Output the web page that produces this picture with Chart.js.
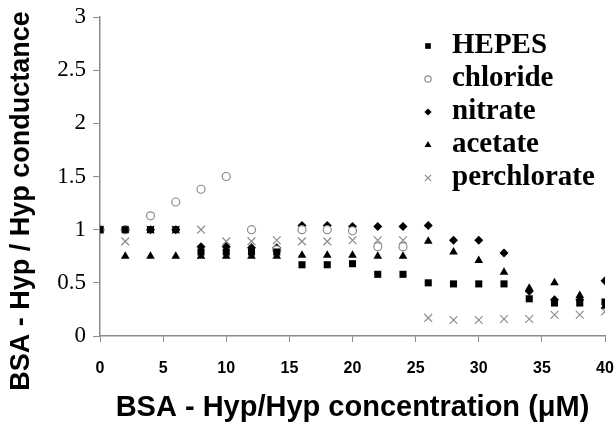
<!DOCTYPE html>
<html>
<head>
<meta charset="utf-8">
<script src="https://cdn.jsdelivr.net/npm/chart.js@4.4.0/dist/chart.umd.min.js"></script>
<style>
  html, body { margin: 0; padding: 0; background: #fff; }
  #wrap { width: 616px; height: 425px; }
</style>
</head>
<body>
<div id="wrap"><canvas id="chart" width="616" height="425"></canvas></div>
<script>
// concentration (uM)
const conc = [0, 2, 4, 6, 8, 10, 12, 14, 16, 18, 20, 22, 24, 26, 28, 30, 32, 34, 36, 38, 40];

// relative conductance per anion
const hepes       = [1.0, 1.0, 1.0, 1.0, 0.79, 0.79, 0.79, 0.79, 0.67, 0.67, 0.68, 0.58, 0.58, 0.50, 0.49, 0.49, 0.49, 0.35, 0.31, 0.31, 0.32];
const chloride    = [1.0, 1.0, 1.13, 1.26, 1.38, 1.50, 1.0, 0.81, 1.0, 1.0, 0.99, 0.84, 0.84];
const nitrate     = [1.0, 1.0, 1.0, 1.0, 0.84, 0.84, 0.83, 0.83, 1.04, 1.04, 1.03, 1.03, 1.03, 1.04, 0.90, 0.90, 0.78, 0.42, 0.34, 0.34, 0.52];
const acetate     = [1.0, 0.75, 0.75, 0.75, 0.75, 0.75, 0.75, 0.75, 0.76, 0.76, 0.76, 0.75, 0.75, 0.89, 0.79, 0.71, 0.60, 0.45, 0.50, 0.38, 0.28];
const perchlorate = [1.0, 0.89, 1.0, 1.0, 1.0, 0.89, 0.89, 0.90, 0.89, 0.89, 0.90, 0.90, 0.90, 0.17, 0.15, 0.15, 0.16, 0.16, 0.20, 0.20, 0.23];

const yTicks = [0, 0.5, 1, 1.5, 2, 2.5, 3];
const xTicks = [0, 5, 10, 15, 20, 25, 30, 35, 40];
const yTitle = 'BSA - Hyp / Hyp conductance';

const gray = '#8c8c8c';

function pts(ys) {
  return ys.map((y, i) => ({ x: conc[i], y: y }));
}

const datasets = [
  { label: 'HEPES', data: pts(hepes), pointStyle: 'rect', pointRadius: 5,
    backgroundColor: '#000', borderColor: '#000', borderWidth: 0 },
  { label: 'chloride', data: pts(chloride), pointStyle: 'circle', pointRadius: 4,
    backgroundColor: '#fff', borderColor: gray, borderWidth: 1.2 },
  { label: 'nitrate', data: pts(nitrate), pointStyle: 'rectRot', pointRadius: 4.5,
    backgroundColor: '#000', borderColor: '#000', borderWidth: 0 },
  { label: 'acetate', data: pts(acetate), pointStyle: 'triangle', pointRadius: 5,
    backgroundColor: '#000', borderColor: '#000', borderWidth: 0 },
  { label: 'perchlorate', data: pts(perchlorate), pointStyle: 'crossRot', pointRadius: 5.5,
    backgroundColor: gray, borderColor: gray, borderWidth: 1.2 }
];

// legend inside the plot (upper right) + y title, which sits lower than the plot centre
const extras = {
  id: 'extras',
  afterDraw(chart) {
    const ctx = chart.ctx;
    const mx = 428, tx = 452, y0 = 46, step = 33;
    ctx.save();
    ctx.font = 'bold 29px "Liberation Serif", "Times New Roman", serif';
    ctx.textBaseline = 'middle';
    chart.data.datasets.forEach((ds, i) => {
      const y = y0 + i * step;
      ctx.fillStyle = ds.backgroundColor;
      ctx.strokeStyle = ds.borderColor;
      ctx.lineWidth = ds.borderWidth || 1;
      Chart.helpers.drawPoint(ctx, {
        pointStyle: ds.pointStyle,
        radius: ds.pointRadius * 0.8,
        borderWidth: ds.borderWidth,
        rotation: 0
      }, mx, y);
      ctx.fillStyle = '#000';
      ctx.fillText(ds.label, tx, y);
    });
    ctx.restore();

    ctx.save();
    ctx.translate(22, 201);
    ctx.rotate(-Math.PI / 2);
    ctx.font = 'bold 27px "Liberation Sans", Arial, sans-serif';
    ctx.fillStyle = '#000';
    ctx.textAlign = 'center';
    ctx.textBaseline = 'middle';
    ctx.fillText(yTitle, 0, 0);
    ctx.restore();
  }
};

new Chart(document.getElementById('chart'), {
  type: 'scatter',
  data: { datasets: datasets },
  plugins: [extras],
  options: {
    responsive: false,
    animation: false,
    layout: { padding: { top: 17, right: 11, left: 0, bottom: 0 } },
    plugins: {
      legend: { display: false },
      tooltip: { enabled: false }
    },
    scales: {
      x: {
        type: 'linear',
        min: 0,
        max: 40,
        afterBuildTicks(scale) { scale.ticks = xTicks.map(v => ({ value: v })); },
        afterFit(scale) {
          scale.height = 89;
          scale.paddingLeft = 0;
          scale.paddingRight = 0;
        },
        grid: { drawOnChartArea: false, color: gray, tickLength: 6, tickColor: gray },
        border: { color: gray, width: 1.5 },
        ticks: {
          color: '#000',
          padding: 17,
          maxRotation: 0,
          font: { family: 'Liberation Sans, Arial, sans-serif', size: 16, weight: 'bold' }
        },
        title: {
          display: true,
          text: 'BSA - Hyp/Hyp concentration (\u03bcM)',
          color: '#000',
          padding: { top: 6, bottom: 0 },
          font: { family: 'Liberation Sans, Arial, sans-serif', size: 29, weight: 'bold' }
        }
      },
      y: {
        min: 0,
        max: 3,
        afterBuildTicks(scale) { scale.ticks = yTicks.map(v => ({ value: v })); },
        afterFit(scale) {
          scale.width = 100;
          scale.paddingTop = 0;
          scale.paddingBottom = 0;
        },
        grid: { drawOnChartArea: false, color: gray, tickLength: 7, tickColor: gray },
        border: { color: gray, width: 1.5 },
        ticks: {
          color: '#000',
          padding: 7,
          callback: v => String(v),
          font: { family: 'Liberation Serif, Times New Roman, serif', size: 23 }
        }
      }
    }
  }
});
</script>
</body>
</html>
